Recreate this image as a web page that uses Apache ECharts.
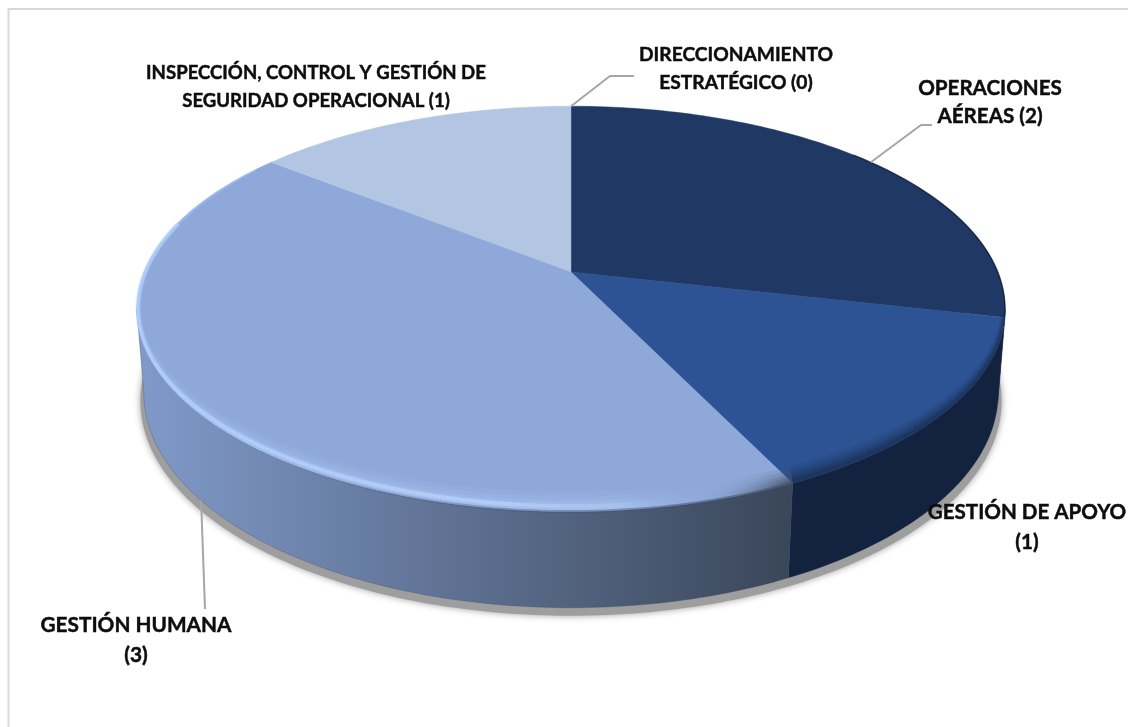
<!DOCTYPE html>
<html>
<head>
<meta charset="utf-8">
<style>
  html, body { margin: 0; padding: 0; background: #fff; }
  #chart { width: 1128px; height: 727px; }
</style>
<script src="https://cdn.jsdelivr.net/npm/echarts@6/dist/echarts.min.js"></script>
</head>
<body>
<div id="chart"></div>
<script>
// Process groups and how many items each one has.
const categories = [
  'OPERACIONES\nAÉREAS',
  'GESTIÓN DE APOYO\n',
  'GESTIÓN HUMANA\n',
  'INSPECCIÓN, CONTROL Y GESTIÓN DE\nSEGURIDAD OPERACIONAL',
  'DIRECCIONAMIENTO\nESTRATÉGICO'
];
const values = [2, 1, 3, 1, 0];

// Slice colours: top face, then the wall colour at each end of the gradient.
const faceColors = ['#1f3864', '#2d5394', '#8ea9d9', '#b2c5e3', '#b2c5e3'];
const wallColors = [
  ['#14264a', '#14264a'],
  ['#13233f', '#13233f'],
  ['#8099c8', '#3a4659'],
  ['#8099c8', '#8099c8'],
  ['#8099c8', '#8099c8']
];

// Label centres, type size, line spacing and leader elbows, one per category.
const labelCenters = [[990, 102], [1027, 527], [136, 640], [316, 87], [736, 69]];
const labelFontSizes = [20.6, 20.6, 20.8, 18.6, 19.2];
const labelLineHeights = [28, 30, 30, 28, 28];
const leaderPaths = [
  { h: 0, via: [[921, 125], [932, 125]] },
  null,
  { h: 1, via: [[205, 609]] },
  null,
  { h: 0, via: [[610, 76], [634, 76]] }
];

// Perspective model of the disc: centre, radii, tilt and wall height.
const disc = { cx: 571, cy: 272, a: 427, b: 196, tilt: 0.182, drop: 84, shrink: 0.016 };
const silhouette = Math.asin(disc.tilt) * 180 / Math.PI;

function project(deg, h, r) {
  const t = deg * Math.PI / 180;
  const u = r * Math.sin(t);
  const v = -r * Math.cos(t);
  const den = 1 - disc.tilt * v + disc.shrink * h;
  return [disc.cx + disc.a * u / den, disc.cy + (disc.b * v + disc.drop * h) / den];
}

function arc(from, to, h, r) {
  const pts = [];
  const n = Math.max(2, Math.ceil(Math.abs(to - from)));
  for (let i = 0; i <= n; i++) pts.push(project(from + (to - from) * i / n, h, r));
  return pts;
}

// Inner edge of the bevel: widest towards the viewer, thin along the sides.
function bevelArc(from, to, depth) {
  const pts = [];
  const n = Math.max(2, Math.ceil(Math.abs(to - from)));
  for (let i = 0; i <= n; i++) {
    const deg = from + (to - from) * i / n;
    const toward = Math.max(0, -Math.cos(deg * Math.PI / 180));
    pts.push(project(deg, -depth * toward, 1 - depth * 0.06));
  }
  return pts;
}

const total = values.reduce((s, x) => s + x, 0);

function sliceRange(index) {
  let before = 0;
  for (let i = 0; i < index; i++) before += values[i];
  return [before / total * 360, (before + values[index]) / total * 360];
}

// Tint of the bevel band for each slice.
function bevelColor(index, alpha) {
  if (index === 2) {
    return new echarts.graphic.LinearGradient(137, 0, 790, 0, [
      { offset: 0, color: `rgba(170,203,255,${alpha})` },
      { offset: 0.74, color: `rgba(178,206,250,${alpha})` },
      { offset: 0.87, color: `rgba(143,170,220,${alpha * 0.3})` },
      { offset: 1, color: `rgba(58,70,89,${alpha * 1.4})` }
    ], true);
  }
  return `rgba(19,35,63,${alpha})`;
}

function renderSlice(params, api) {
  const i = params.dataIndex;
  const [start, end] = sliceRange(i);
  const children = [];

  // The cast shadow goes under everything else.
  if (i === 0) {
    const rim = arc(0, 360, 1, 1).map(p => [disc.cx + (p[0] - disc.cx) * 1.008, p[1] + 8]);
    children.push({
      type: 'polygon',
      shape: { points: rim },
      style: { fill: '#9e9e9e', shadowBlur: 7, shadowColor: '#9e9e9e' }
    });
  }

  if (end > start) {
    // Wall: only the part of the disc edge that faces the viewer.
    const wFrom = Math.max(start, 90 + silhouette);
    const wTo = Math.min(end, 270 - silhouette);
    if (wTo > wFrom) {
      const pts = arc(wFrom, wTo, 0, 1).concat(arc(wTo, wFrom, 1, 1));
      const [cA, cB] = wallColors[i];
      children.push({
        type: 'polygon',
        shape: { points: pts },
        style: {
          fill: new echarts.graphic.LinearGradient(143, 0, 790, 0, [
            { offset: 0, color: cA },
            { offset: 1, color: cB }
          ], true),
          stroke: cB,
          lineWidth: 0.3
        }
      });
    }

    // Top face.
    const face = [[disc.cx, disc.cy]].concat(arc(start, end, 0, 1));
    children.push({
      type: 'polygon',
      shape: { points: face },
      style: { fill: faceColors[i], stroke: faceColors[i], lineWidth: 0.4 }
    });

    // Bevel, built up from nested translucent bands.
    const bFrom = Math.max(start, 90);
    const bTo = Math.min(end, 305);
    if (bTo > bFrom && (i === 1 || i === 2)) {
      const outer = arc(bFrom, bTo, 0, 1);
      [[0.17, 0.1], [0.13, 0.13], [0.095, 0.17], [0.065, 0.2], [0.04, 0.22]].forEach(([d, a]) => {
        children.push({
          type: 'polygon',
          shape: { points: bevelArc(bFrom, bTo, d).concat(outer.slice().reverse()) },
          style: { fill: bevelColor(i, a) }
        });
      });
      if (i === 2) {
        // Bright crest of the bevel, strongest on the left and gone by the right end.
        const crest = bevelArc(bFrom, 285, 0.05);
        [[5, 0.22], [3, 0.4]].forEach(([w, a]) => {
          children.push({
            type: 'polyline',
            shape: { points: crest },
            style: {
              fill: null,
              lineWidth: w,
              stroke: new echarts.graphic.LinearGradient(137, 0, 790, 0, [
                { offset: 0, color: `rgba(182,212,255,${a * 1.4})` },
                { offset: 0.55, color: `rgba(196,220,255,${a})` },
                { offset: 0.8, color: `rgba(196,220,255,0)` },
                { offset: 1, color: `rgba(196,220,255,0)` }
              ], true)
            }
          });
        });
        // Soft seam against the wall along the front.
        children.push({
          type: 'polyline',
          shape: { points: arc(bFrom, 240, 0, 1) },
          style: {
            fill: null,
            lineWidth: 3,
            stroke: new echarts.graphic.LinearGradient(250, 0, 790, 0, [
              { offset: 0, color: 'rgba(70,85,120,0)' },
              { offset: 0.4, color: 'rgba(70,85,120,0.35)' },
              { offset: 1, color: 'rgba(58,70,89,0.6)' }
            ], true)
          }
        });
      }
    }

    // Thin dark edge where the far slice turns to the side.
    if (i === 0) {
      children.push({
        type: 'polyline',
        shape: { points: arc(48, end, 0, 0.999) },
        style: { fill: null, stroke: 'rgba(10,20,40,0.55)', lineWidth: 1.5 }
      });
    }
  }

  // Leader from the middle of the slice out to its label.
  const path = leaderPaths[i];
  if (path) {
    const anchor = project((start + end) / 2, path.h, 1);
    children.push({
      type: 'polyline',
      shape: { points: [anchor].concat(path.via) },
      style: { fill: null, stroke: '#a6a6a6', lineWidth: 2 }
    });
  }

  // Label with the value in brackets.
  const [lx, ly] = labelCenters[i];
  children.push({
    type: 'text',
    z2: 50,
    style: {
      x: lx,
      y: ly,
      text: `${categories[i]}${categories[i].endsWith('\n') ? '' : ' '}(${api.value(0)})`,
      fill: '#0d0d0d',
      stroke: '#0d0d0d',
      lineWidth: 0.45,
      font: `bold ${labelFontSizes[i]}px Lato`,
      lineHeight: labelLineHeights[i],
      align: 'center',
      verticalAlign: 'middle'
    }
  });

  return { type: 'group', children };
}

const chart = echarts.init(document.getElementById('chart'), null, { renderer: 'canvas' });
chart.setOption({
  animation: false,
  backgroundColor: '#ffffff',
  graphic: [{
    type: 'polyline',
    silent: true,
    shape: { points: [[8.5, 727], [8.5, 9], [1128, 9]] },
    style: { fill: null, stroke: '#d9d9d9', lineWidth: 2 }
  }],
  series: [{
    type: 'custom',
    coordinateSystem: 'none',
    silent: true,
    renderItem: renderSlice,
    encode: { value: 0 },
    data: values.map((v, i) => ({ name: categories[i], value: [v] }))
  }]
});
</script>
</body>
</html>
